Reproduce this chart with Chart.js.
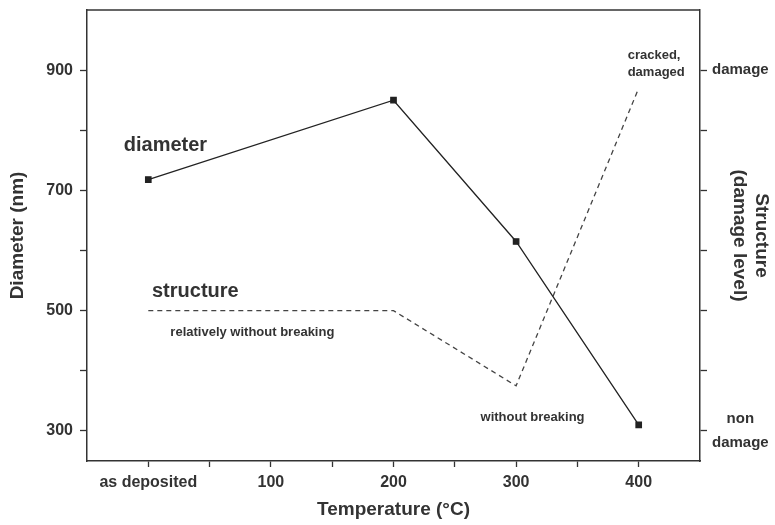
<!DOCTYPE html>
<html>
<head>
<meta charset="utf-8">
<script src="https://cdn.jsdelivr.net/npm/chart.js@4/dist/chart.umd.min.js"></script>
<style>
  html, body { margin: 0; padding: 0; background: #fff; }
  #wrap { width: 775px; height: 525px; }
</style>
</head>
<body>
<div id="wrap"><canvas id="chart" width="775" height="525"></canvas></div>
<script>
// data
const temps        = [0, 200, 300, 400];          // 0 = "as deposited"
const diameter     = [718, 850, 615, 310];        // nm
const structure    = [1.0, 1.0, 0.375, 2.85];     // damage level, 0 = non damage, 3 = damage
const xTickLabels  = { 0: 'as deposited', 100: '100', 200: '200', 300: '300', 400: '400' };
const yTickLabels  = [300, 500, 700, 900];
const levelTicks   = [0, 0.5, 1, 1.5, 2, 2.5, 3];
const levelLabels  = { 0: ['non', 'damage'], 3: 'damage' };

// text notes inside the plot (placed in data units)
const notes = [
  { text: 'diameter', x: -20, y: 775, size: 20 },
  { text: 'structure', x: 3, y: 532, size: 20 },
  { text: 'relatively without breaking', x: 18, y: 463, size: 13 },
  { text: 'without breaking', x: 271, y: 323, size: 13 },
  { text: 'cracked,', x: 391, y: 925, size: 13 },
  { text: 'damaged', x: 391, y: 897, size: 13 }
];

const FONT = '"Liberation Sans", Arial, sans-serif';
const INK = '#333';

const notesPlugin = {
  id: 'notes',
  afterDatasetsDraw(chart) {
    const ctx = chart.ctx, a = chart.chartArea;
    const xs = chart.scales.x, ys = chart.scales.y;
    ctx.save();
    // top frame line
    ctx.strokeStyle = INK;
    ctx.lineWidth = 1.5;
    ctx.beginPath();
    ctx.moveTo(a.left, a.top);
    ctx.lineTo(a.right, a.top);
    ctx.stroke();
    ctx.fillStyle = INK;
    ctx.textAlign = 'left';
    ctx.textBaseline = 'middle';
    notes.forEach(n => {
      ctx.font = 'bold ' + n.size + 'px ' + FONT;
      ctx.fillText(n.text, xs.getPixelForValue(n.x), ys.getPixelForValue(n.y));
    });
    ctx.restore();
  }
};

// fixed axis sizes, no extra label padding
function fixSize(w, h) {
  return s => {
    if (w) s.width = w;
    if (h) s.height = h;
    s.paddingTop = 0; s.paddingBottom = 0;
    s.paddingLeft = 0; s.paddingRight = 0;
  };
}

new Chart(document.getElementById('chart'), {
  type: 'line',
  data: {
    datasets: [{
      label: 'diameter',
      data: temps.map((t, i) => ({ x: t, y: diameter[i] })),
      yAxisID: 'y',
      borderColor: '#222',
      backgroundColor: '#222',
      borderWidth: 1.3,
      pointStyle: 'rect',
      pointRadius: 3.8,
      pointHoverRadius: 3.8,
      tension: 0
    }, {
      label: 'structure',
      data: temps.map((t, i) => ({ x: t, y: structure[i] })),
      yAxisID: 'y2',
      borderColor: '#444',
      borderWidth: 1.3,
      borderDash: [5, 4],
      pointRadius: 0,
      tension: 0
    }]
  },
  options: {
    responsive: false,
    animation: false,
    events: [],
    layout: { padding: { top: 10, left: 0, right: 0, bottom: 0 } },
    plugins: { legend: { display: false }, tooltip: { enabled: false } },
    scales: {
      x: {
        type: 'linear',
        min: -50, max: 450,
        afterFit: fixSize(0, 64),
        afterBuildTicks: s => { s.ticks = s.ticks.filter(t => t.value >= 0 && t.value <= 400); },
        ticks: {
          stepSize: 50, autoSkip: false, maxRotation: 0, padding: 6,
          color: INK, font: { family: FONT, size: 16, weight: 'bold' },
          callback: v => xTickLabels[v] || ''
        },
        grid: { drawOnChartArea: false, drawTicks: true, tickLength: 6, tickColor: INK, tickWidth: 1.3 },
        border: { color: INK, width: 1.5 },
        title: {
          display: true, text: 'Temperature (°C)', color: INK,
          font: { family: FONT, size: 19, weight: 'bold' }, padding: { top: 0, bottom: 4 }
        }
      },
      y: {
        type: 'linear', position: 'left',
        min: 250, max: 1000,
        afterFit: fixSize(87, 0),
        afterBuildTicks: s => { s.ticks = s.ticks.filter(t => t.value >= 300 && t.value <= 900); },
        ticks: {
          stepSize: 100, autoSkip: false, padding: 7,
          color: INK, font: { family: FONT, size: 16, weight: 'bold' },
          callback: v => yTickLabels.includes(v) ? String(v) : ''
        },
        grid: { drawOnChartArea: false, drawTicks: true, tickLength: 7, tickColor: INK, tickWidth: 1.3 },
        border: { color: INK, width: 1.5 },
        title: {
          display: true, text: 'Diameter (nm)', color: INK,
          font: { family: FONT, size: 19, weight: 'bold' }, padding: { top: 6, bottom: 0 }
        }
      },
      y2: {
        type: 'linear', position: 'right',
        min: -0.25, max: 3.5,
        afterFit: fixSize(75, 0),
        afterBuildTicks: s => { s.ticks = levelTicks.map(v => ({ value: v })); },
        ticks: {
          autoSkip: false, padding: 5, crossAlign: 'center',
          color: INK, font: { family: FONT, size: 15, weight: 'bold', lineHeight: 1.55 },
          callback: v => levelLabels[v] || ''
        },
        grid: { drawOnChartArea: false, drawTicks: true, tickLength: 7, tickColor: INK, tickWidth: 1.3 },
        border: { color: INK, width: 1.5 },
        title: {
          display: true, text: ['Structure', '(damage level)'], color: INK,
          font: { family: FONT, size: 19, weight: 'bold' }, padding: { top: 2, bottom: 0 }
        }
      }
    }
  },
  plugins: [notesPlugin]
});
</script>
</body>
</html>
